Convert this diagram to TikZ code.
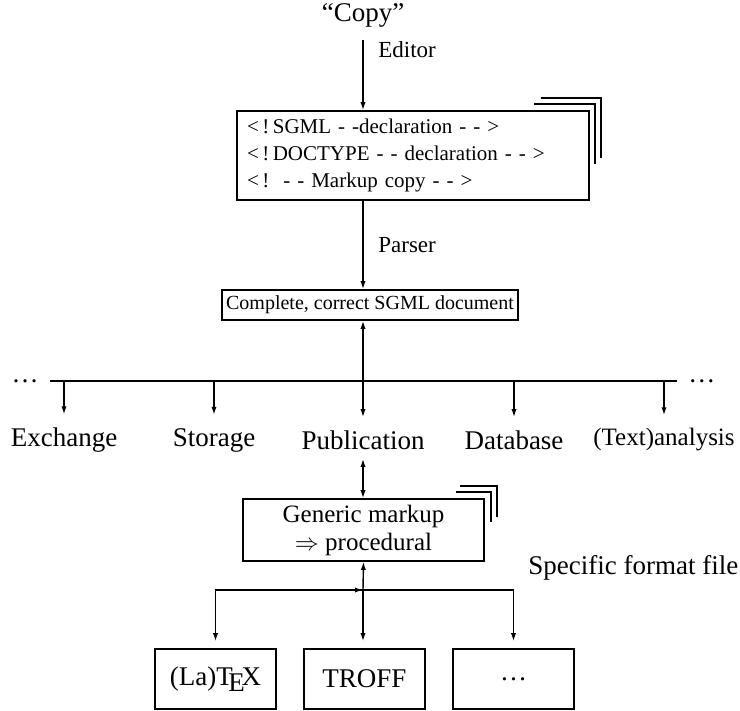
\documentclass[tikz,border=0pt]{standalone}
\usepackage{fontspec}
\setmainfont{Liberation Serif}
\usepackage{tikz}
\usetikzlibrary{calc, arrows.meta}
\usetikzlibrary{positioning}

\tikzset{
  arr/.style={-{Latex[length=4pt,width=2.6pt]}},
  bx/.style={draw, line width=0.8pt, inner sep=0pt},
  big font/.style={font=\fontsize{13.5}{16}\selectfont},
}

\begin{document}
\begin{tikzpicture}[x=0.5pt, y=-0.5pt, line width=0.7pt, font=\fontsize{11.5}{14}\selectfont]
    \useasboundingbox (0,0) rectangle (740,711);
    \node[big font] (copy) at (363,15) {“Copy”};
    \node[bx, minimum width=176pt, minimum height=44.5pt, text width=166pt, align=left,
          font=\fontsize{10.5}{13.5}\selectfont] (big) at (413,155.5)
        {<\,!\,SGML - -declaration - - >\\
         <\,!\,DOCTYPE - - declaration - - >\\
         <\,!\ \ - - Markup copy - - >};
    \draw ([shift={(-56,-6)}]big.north east) -| ([shift={(5,54)}]big.north east);
    \draw ([shift={(-49,-12)}]big.north east) -| ([shift={(11,48)}]big.north east);
    \node[bx, minimum width=148pt, minimum height=15pt, font=\fontsize{10}{12}\selectfont] (sgml)
        at (370,305) {Complete, correct SGML document};
    \draw[arr, shorten <=3pt] (copy) -- node[right=4pt, pos=0.2]{Editor} (copy |- big.north);
    \draw[arr] (copy |- big.south) -- node[right=4pt, pos=0.5]{Parser} (copy |- sgml.north);

    % distribution line
    \coordinate (busL) at (50,381);
    \coordinate (busR) at (677,381);
    \draw (busL) -- (busR);
    \node[left=2pt, big font] (dotsL) at (busL) {\dots};
    \node[right=2pt, big font] (dotsR) at (busR) {\dots};
    \draw[arr] (copy |- busL) -- (copy |- sgml.south);
    \foreach \x/\name/\txt/\sz in {64/exch/Exchange/13.5, 214/stor/Storage/13.5,
                                   363/pub/Publication/13.5, 514/dbase/Database/13.5,
                                   664/anal/(Text)analysis/12.5}{
      \node[font=\fontsize{\sz}{16}\selectfont] (\name) at (\x,440) {\txt};
      \draw[arr, shorten >=3pt] (\name |- busL) -- (\name.north);
    }

    \node[bx, minimum width=120.5pt, minimum height=31pt, align=center,
          font=\fontsize{12.5}{14}\selectfont] (gen) at (363.5,530)
        {Generic markup\\$\Rightarrow$ procedural};
    \draw ([shift={(-29,-6)}]gen.north east) -| ([shift={(6,24)}]gen.north east);
    \draw ([shift={(-25,-12)}]gen.north east) -| ([shift={(12,19)}]gen.north east);
    \draw[{Latex[length=4pt,width=2.6pt]}-{Latex[length=4pt,width=2.6pt]}, shorten <=1pt]
        (pub.south) -- (pub |- gen.north);

    % output formats
    \node[bx, minimum width=60.5pt, minimum height=30pt, big font] (latex) at (215.5,679) {(La)\TeX};
    \node[bx, minimum width=60.5pt, minimum height=30pt, big font] (troff) at (364.5,679) {TROFF};
    \node[bx, minimum width=60.5pt, minimum height=30pt, big font] (more) at (513.5,679) {\dots};
    \coordinate (fork) at (363,590);
    \node[anchor=west, big font] (spec) at (521,568) {Specific format file};
    \draw[arr] (fork) -- (gen.south);
    \draw[arr, shorten >=3.5pt] (fork) -| (latex.north);
    \draw[arr, shorten >=3.5pt] (fork) -| (more.north);
    \draw[arr, shorten >=3.5pt] (fork) -- (fork |- troff.north);
    \draw[arr] (latex.north |- fork) -- (fork);
\end{tikzpicture}
\end{document}
